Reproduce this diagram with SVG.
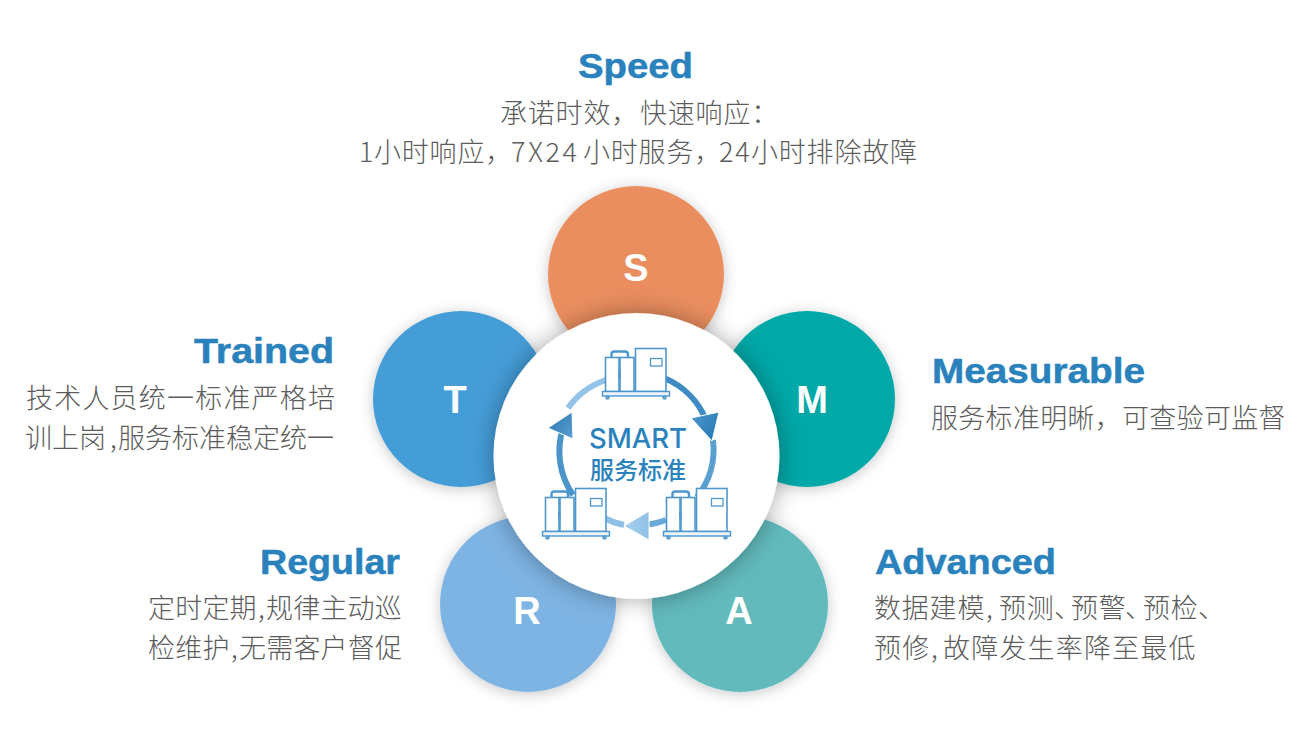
<svg xmlns="http://www.w3.org/2000/svg" width="1309" height="740" viewBox="0 0 1309 740">
<style>
.t{font-family:"Liberation Sans",Arial,sans-serif;font-weight:700;font-size:35px;fill:#2a82bd;stroke:#2a82bd;stroke-width:.5px}
.d{font-family:"Noto Sans CJK SC","Noto Sans",sans-serif;font-weight:300;font-size:27px;fill:#5c5c5c;letter-spacing:.8px}
.l{font-family:"Liberation Sans",Arial,sans-serif;font-weight:700;font-size:38px;fill:#fff;text-anchor:middle}
.ic{fill:#fff;stroke:#4d97cd;stroke-width:1.6}
.ib{fill:#eaf3fa;stroke:#4d97cd;stroke-width:1.4}
.n{letter-spacing:-10px}
</style>
<defs>
<filter id="sh" x="-30%" y="-30%" width="160%" height="160%"><feDropShadow dx="0" dy="0" stdDeviation="12" flood-color="#000" flood-opacity=".35"/></filter>
<filter id="sh2" x="-30%" y="-30%" width="160%" height="160%"><feDropShadow dx="0" dy="2" stdDeviation="7" flood-color="#000" flood-opacity=".22"/></filter>
<linearGradient id="a1" x1="0" y1="0" x2="1" y2="1"><stop offset="0" stop-color="#4f97cc"/><stop offset="1" stop-color="#2076b2"/></linearGradient>
<linearGradient id="a2" x1="1" y1="0" x2="0" y2="0"><stop offset="0" stop-color="#8fc0e6"/><stop offset="1" stop-color="#a9d0ee"/></linearGradient>
<linearGradient id="a3" x1="1" y1="1" x2="0" y2="0"><stop offset="0" stop-color="#5d9fd0"/><stop offset="1" stop-color="#2476b3"/></linearGradient>
<g id="unit">
<path d="M611.500 357v-3q0-2.500 3-2.500h10.500q3 0 3 3v3" fill="none" stroke="#4d97cd" stroke-width="2.400"/>
<rect class="ic" x="605.500" y="357.500" width="13.500" height="34"/>
<rect class="ic" x="620" y="357.500" width="14" height="34"/>
<rect x="618.300" y="372" width="2.200" height="6" fill="#4d97cd"/>
<rect class="ic" x="635.500" y="348.500" width="30.500" height="43"/>
<rect x="650.500" y="358.500" width="11.500" height="7.500" fill="#fff" stroke="#4d97cd" stroke-width="1.300"/>
<rect class="ib" x="602.500" y="391.500" width="67" height="4.500"/>
<circle cx="607.500" cy="397.500" r="2.300" fill="#5b9fd0"/><circle cx="664.500" cy="397.500" r="2.300" fill="#5b9fd0"/>
</g>
</defs>
<g id="node-s"><circle cx="636" cy="274" r="88" fill="#ea8e5f" filter="url(#sh2)"/><text class="l" x="636" y="281">S</text></g>
<g id="node-m"><circle cx="807" cy="399" r="88" fill="#05a8a8" filter="url(#sh2)"/><text class="l" x="812" y="413">M</text></g>
<g id="node-a"><circle cx="740" cy="604" r="88" fill="#62babd" filter="url(#sh2)"/><text class="l" x="739" y="624">A</text></g>
<g id="node-r"><circle cx="528" cy="604" r="88" fill="#7eb4e3" filter="url(#sh2)"/><text class="l" x="527" y="624">R</text></g>
<g id="node-t"><circle cx="461" cy="399" r="88" fill="#459dd8" filter="url(#sh2)"/><text class="l" x="455" y="413">T</text></g>
<g id="center">
<circle cx="636.500" cy="456" r="143" fill="#fff" filter="url(#sh)"/>
<g id="connectors" fill="none" stroke-width="6">
<path d="M664 378A76.500 76.500 0 0 1 706 420" stroke="#3f8cc4"/>
<path d="M713 440A76.500 76.500 0 0 1 697 497" stroke="#5a9fd0"/>
<path d="M666 520A76.500 76.500 0 0 1 645 525" stroke="#6aa8d8"/>
<path d="M604 518A76.500 76.500 0 0 0 624 525" stroke="#8fc0e6"/>
<path d="M573 495A76.500 76.500 0 0 1 563 428" stroke="#4a94c9"/>
<path d="M568 408A76.500 76.500 0 0 1 606 380" stroke="#94c3e8"/>
<path d="M691 418L719 412L712 441Z" fill="url(#a1)" stroke="#fff" stroke-width="1"/>
<path d="M649 511V540L624 526Z" fill="url(#a2)" stroke="#fff" stroke-width="1"/>
<path d="M572 412L573 439L548 428Z" fill="url(#a3)" stroke="#fff" stroke-width="1"/>
</g>
<use href="#unit"/>
<use href="#unit" x="61" y="140"/>
<use href="#unit" x="-60" y="140"/>
<text x="638" y="448" text-anchor="middle" font-family="Inter,'Liberation Sans',sans-serif" font-size="27.500" font-weight="500" fill="#2a82bd">SMART</text>
<text x="638" y="479" text-anchor="middle" font-family="'Noto Sans CJK SC',sans-serif" font-size="24" font-weight="500" fill="#2a82bd">服务标准</text>
</g>
<g id="label-s">
<text class="t" x="578" y="78" textLength="115" lengthAdjust="spacingAndGlyphs">Speed</text>
<text class="d" y="123"><tspan x="500">承诺时效，</tspan><tspan x="640">快速响应：</tspan></text>
<text class="d" y="162"><tspan x="359">1</tspan><tspan x="374">小时响应，</tspan><tspan x="511" letter-spacing="2.700">7X24</tspan><tspan x="583">小时服务，</tspan><tspan x="719" letter-spacing="1.800">24</tspan><tspan x="751">小时排除故障</tspan></text>
</g>
<g id="label-m">
<text class="t" x="932" y="383" textLength="213" lengthAdjust="spacingAndGlyphs">Measurable</text>
<text class="d" y="428" style="letter-spacing:.3px"><tspan x="931">服务标准明晰，</tspan><tspan x="1122">可查验可监督</tspan></text>
</g>
<g id="label-a">
<text class="t" x="875" y="574" textLength="181" lengthAdjust="spacingAndGlyphs">Advanced</text>
<text class="d" y="618"><tspan x="874">数据建模</tspan><tspan x="986">,</tspan><tspan x="999">预测</tspan><tspan x="1054" class="n">、</tspan><tspan x="1071">预警</tspan><tspan x="1125" class="n">、</tspan><tspan x="1143">预检</tspan><tspan x="1198" class="n">、</tspan></text>
<text class="d" y="658" style="letter-spacing:1.200px"><tspan x="874">预修</tspan><tspan x="931">,</tspan><tspan x="943">故障发生率降至最低</tspan></text>
</g>
<g id="label-r">
<text class="t" x="260" y="574" textLength="140" lengthAdjust="spacingAndGlyphs">Regular</text>
<text class="d" y="618" style="letter-spacing:.2px"><tspan x="148">定时定期</tspan><tspan x="258">,</tspan><tspan x="266">规律主动巡</tspan></text>
<text class="d" y="658" style="letter-spacing:.2px"><tspan x="148">检维护</tspan><tspan x="231">,</tspan><tspan x="239">无需客户督促</tspan></text>
</g>
<g id="label-t">
<text class="t" x="194" y="363" textLength="140" lengthAdjust="spacingAndGlyphs">Trained</text>
<text class="d" y="408" style="letter-spacing:1.200px"><tspan x="26">技术人员统一标准严格培</tspan></text>
<text class="d" y="448" style="letter-spacing:0"><tspan x="25">训上岗</tspan><tspan x="110">,</tspan><tspan x="118">服务标准稳定统一</tspan></text>
</g>
</svg>
